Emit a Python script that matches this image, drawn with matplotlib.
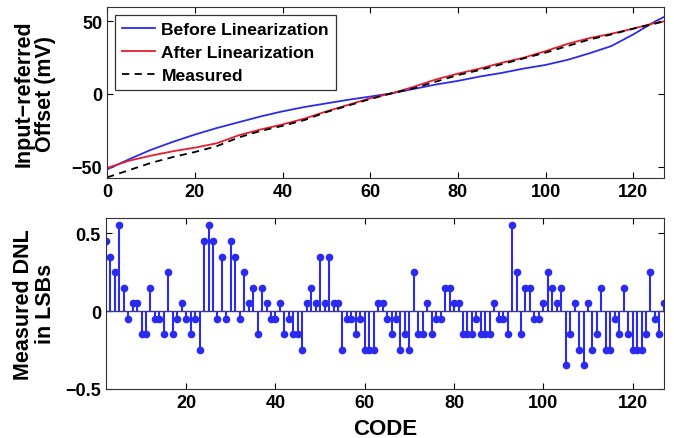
import numpy as np
import matplotlib
matplotlib.use('Agg')
from matplotlib import pyplot as plt

plt.rcParams['font.family'] = ['Liberation Sans', 'DejaVu Sans']
plt.rcParams['font.weight'] = 'bold'

# ============= data =======================================

# top panel: offset vs code (mV), sampled every 5 codes
offset_codes = [0, 5, 10, 15, 20, 25, 30, 35, 40, 45, 50, 55, 60, 65,
                70, 75, 80, 85, 90, 95, 100, 105, 110, 115, 120, 125, 127]
before_lin = [-52, -45, -38.5, -33, -28, -23.5, -19.5, -15.5, -12, -9, -6.5, -4, -1.8, 0.5,
              3.5, 6.5, 9, 12, 14.5, 17.5, 20, 23.5, 28, 33, 41, 50, 53]
after_lin = [-51, -46, -42.5, -39.5, -37, -34, -28.5, -24.5, -21, -17, -12, -7.5, -3, 0.5,
             5, 10, 14, 17.5, 21.5, 25, 29.5, 34.5, 38.5, 41.5, 45, 49, 50]
measured = [-57.5, -52.5, -47.5, -43.5, -40, -36, -30, -25.5, -22, -18, -12.5, -8, -3.5, 0.5,
            4, 8.5, 13, 16.5, 20.5, 24.5, 28.5, 33, 37.5, 41, 45, 48.5, 50]

# bottom panel: measured DNL (LSB) for codes 2..127
dnl_codes = list(range(2, 128))
dnl = [0.45, 0.35, 0.25, 0.55, 0.15, -0.05, 0.05, 0.05, -0.15, -0.15,   # 2-11
       0.15, -0.05, -0.05, -0.15, 0.25, -0.15, -0.05, 0.05, -0.05, -0.15,  # 12-21
       -0.05, -0.25, 0.45, 0.55, 0.45, -0.05, 0.35, -0.05, 0.45, 0.35,    # 22-31
       -0.05, 0.25, 0.05, 0.15, -0.15, 0.15, 0.05, -0.05, -0.05, 0.05,    # 32-41
       -0.15, -0.05, -0.15, -0.15, -0.25, 0.05, 0.15, 0.05, 0.35, 0.05,   # 42-51
       0.35, 0.05, 0.05, -0.25, -0.05, -0.05, -0.15, -0.05, -0.25, -0.25, # 52-61
       -0.25, 0.05, 0.05, -0.05, -0.15, -0.05, -0.25, -0.15, -0.25, 0.25, # 62-71
       -0.15, -0.15, 0.05, -0.15, -0.05, -0.05, 0.15, 0.15, 0.05, 0.05,   # 72-81
       -0.15, -0.15, -0.15, -0.05, -0.15, -0.15, -0.15, 0.05, -0.05, -0.05, # 82-91
       -0.15, 0.55, 0.25, -0.15, 0.15, 0.15, -0.05, -0.05, 0.05, 0.25,    # 92-101
       0.15, 0.05, 0.15, -0.35, -0.15, 0.05, -0.25, -0.35, 0.05, -0.25,   # 102-111
       -0.15, 0.15, -0.25, -0.25, -0.05, -0.15, 0.15, -0.15, -0.25, -0.25, # 112-121
       -0.25, -0.15, 0.25, -0.05, -0.15, 0.05]                             # 122-127

top_xticks = [0, 20, 40, 60, 80, 100, 120]
top_yticks = [-50, 0, 50]
bot_xticks = [20, 40, 60, 80, 100, 120]
bot_yticks = [-0.5, 0, 0.5]

blue = '#2b2bf0'
red = '#e81c2c'

fig = plt.figure(figsize=(6.74, 4.39), dpi=100)
ax1 = fig.add_axes([0.159, 0.592, 0.826, 0.390])
ax2 = fig.add_axes([0.157, 0.112, 0.828, 0.390])

# ============= top panel ================
ax1.plot(offset_codes, before_lin, color=blue, lw=1.3, label='Before Linearization')
ax1.plot(offset_codes, after_lin, color=red, lw=1.3, label='After Linearization')
ax1.plot(offset_codes, measured, color='black', lw=1.3, ls=(0, (4, 3)), label='Measured')
ax1.set_xlim(0, 127)
ax1.set_ylim(-58, 60)
ax1.set_xticks(top_xticks)
ax1.set_yticks(top_yticks)
ax1.set_yticklabels(['\u221250', '0', '50'])
ax1.set_ylabel('Input\u2212referred\nOffset (mV)', fontsize=15.5, fontweight='bold',
               linespacing=1.05)
leg = ax1.legend(loc='upper left', fontsize=12.6, frameon=True, fancybox=False,
                 edgecolor='black', borderpad=0.4, labelspacing=0.45, handlelength=1.9,
                 handletextpad=0.35, borderaxespad=0.45)
leg.get_frame().set_linewidth(0.9)
for t in leg.get_texts():
    t.set_fontweight('bold')

# ============= bottom panel ================
markerline, stemlines, baseline = ax2.stem(dnl_codes, dnl, linefmt='-', markerfmt='o', basefmt='-')
plt.setp(stemlines, color=blue, linewidth=1.5)
plt.setp(markerline, color=blue, markersize=4.5, markerfacecolor=blue)
plt.setp(baseline, color='#3a3a80', linewidth=1.0)
ax2.set_xlim(2, 127)
ax2.set_ylim(-0.5, 0.6)
ax2.set_xticks(bot_xticks)
ax2.set_yticks(bot_yticks)
ax2.set_yticklabels(['\u22120.5', '0', '0.5'])
ax2.set_ylabel('Measured DNL\nin LSBs', fontsize=15.5, fontweight='bold',
               linespacing=1.05)
ax2.set_xlabel('CODE', fontsize=16, fontweight='bold', labelpad=5)

for ax in (ax1, ax2):
    ax.tick_params(direction='in', top=True, right=True, labelsize=13, length=4, width=0.8)
    for lab in ax.get_xticklabels() + ax.get_yticklabels():
        lab.set_fontweight('bold')
    for sp in ax.spines.values():
        sp.set_linewidth(0.8)
        sp.set_color('#333333')

# both y labels share the same left position, as in the reference
ax1.yaxis.set_label_coords(-0.0916, 0.5)
ax2.yaxis.set_label_coords(-0.0893, 0.5)

fig.savefig('out.png', dpi=100)
